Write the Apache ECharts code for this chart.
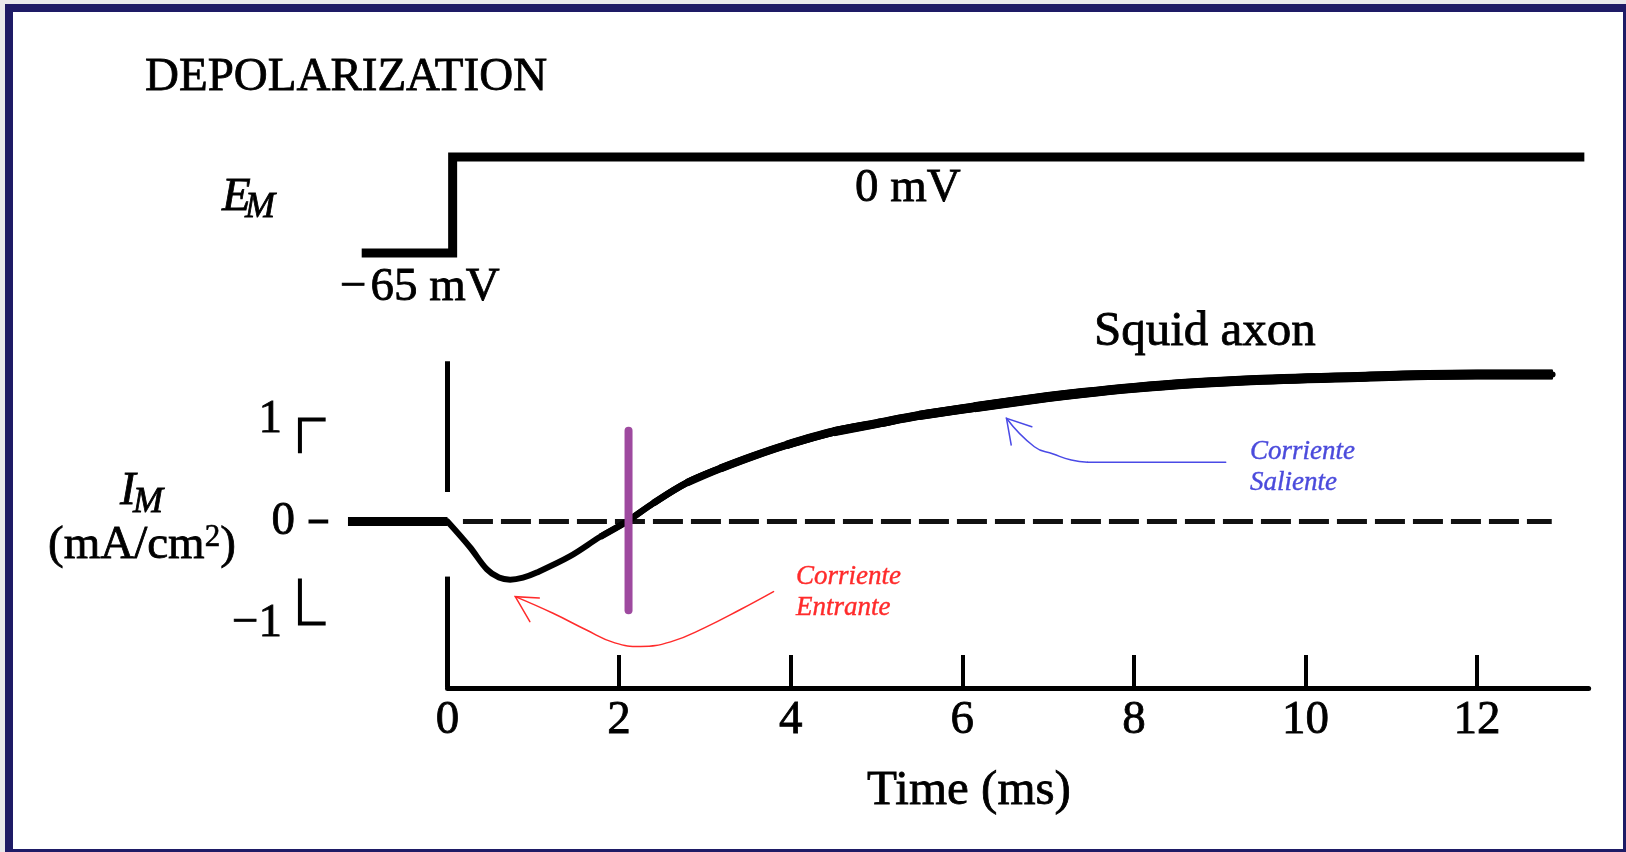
<!DOCTYPE html>
<html>
<head>
<meta charset="utf-8">
<title>Depolarization – squid axon</title>
<script src="https://cdn.jsdelivr.net/npm/echarts@6/dist/echarts.min.js"></script>
<style>
  html, body { margin: 0; padding: 0; background: #e9e9ec; }
  #page { position: relative; width: 1626px; height: 852px; overflow: hidden; background: #e9e9ec; }
  #frame { position: absolute; left: 5px; top: 4px; width: 1610px; height: 837px;
           border: 8px solid #1e1b66; background: #ffffff; }
  #chart { position: absolute; left: 0; top: 0; width: 1626px; height: 852px; }
</style>
</head>
<body>
<div id="page"><div id="frame"></div><div id="chart"></div></div>
<script>
// ---- data ---------------------------------------------------------------
// Voltage-clamp command: membrane potential step (mV) vs time (ms)
const emTime = [-1.0, 0.06, 0.06, 13.25];
const emVolt = [-65, -65, 0, 0];

// Membrane current of the squid axon (mA/cm2) vs time (ms)
const imTime = [-1.16, 0, 0.26, 0.46, 0.6, 0.73, 0.88, 1.04, 1.43, 1.78, 2.09, 2.4, 2.79, 3.18,
                3.56, 3.95, 4.5, 5.0, 5.5, 6.14, 7.0, 7.4, 8.0, 8.6, 9.5, 10.7, 12.0, 12.88];
const imCurr = [0, 0, -0.25, -0.47, -0.55, -0.57, -0.55, -0.50, -0.34, -0.15, 0, 0.18, 0.38, 0.52,
                0.64, 0.75, 0.88, 0.96, 1.04, 1.12, 1.22, 1.26, 1.31, 1.35, 1.39, 1.42, 1.44, 1.44];

// Zero-current reference (dashed), time span in ms
const zeroSpan = [0.18, 12.87];
// Stimulus onset marker at t = 0, drawn in two pieces around the trace (mA/cm2)
const onsetTime = 0;
const onsetPieces = [[1.57, 0.29], [-0.54, -1.63]];
// Reversal of the current (inward -> outward)
const reversalTime = 2.11;
const reversalSpan = [0.89, -0.87];

// Axis ticks
const timeTicks = [0, 2, 4, 6, 8, 10, 12];
const timeAxisEnd = 13.3;
const imTicks = [1, 0, -1];
const imTickLabels = ['1', '0', '−1'];

// Hand-drawn annotation arrows, in (ms, mA/cm2)
const inwardArrowPath = [[3.80, -0.687], [3.42, -0.86], [3.00, -1.04], [2.60, -1.18], [2.25, -1.225],
                         [1.95, -1.19], [1.62, -1.064], [1.23, -0.900], [0.79, -0.737]];
const inwardArrowHead = [[1.07, -0.75], [0.79, -0.737], [0.96, -0.982]];
const outwardArrowLine = [[9.07, 0.58], [7.46, 0.58]];
const outwardArrowPath = [[7.46, 0.58], [7.27, 0.603], [7.06, 0.662], [6.84, 0.733], [6.515, 1.012]];
const outwardArrowHead = [[6.81, 0.929], [6.515, 1.012], [6.57, 0.75]];

// ---- layout -------------------------------------------------------------
const FONT = 'Liberation Serif';
const PX0 = 447.5;      // pixel column of t = 0
const PXMS = 85.8;      // pixels per millisecond
const X_MIN = -2, X_MAX = 13.5;
const plotLeft = PX0 + X_MIN * PXMS;
const plotRight = 1626 - (PX0 + X_MAX * PXMS);
// stroke widths of the current trace, growing along the record: [from ms, width]
const traceWidths = [[0, 6], [1.78, 6.5], [2.4, 7], [2.79, 7.5], [3.18, 8], [3.95, 8.5],
                     [4.5, 9], [5.5, 9.5], [6.14, 10]];

const chart = echarts.init(document.getElementById('chart'), null, { renderer: 'canvas' });

function pairs(xs, ys) { return xs.map((x, i) => [x, ys[i]]); }
function segment(data, style, axis, extra) {
  return Object.assign({
    type: 'line', xAxisIndex: axis, yAxisIndex: axis, data: data,
    symbol: 'none', silent: true, clip: false,
    lineStyle: Object.assign({ color: '#000', width: 4, cap: 'round', join: 'round' }, style)
  }, extra || {});
}

const imData = pairs(imTime, imCurr);
const trace = (from, to) => imData.filter(p => p[0] >= from && p[0] <= to);

// bracket-style scale marks beside the current axis
const bracketX = -1.72, bracketEnd = -1.42, dashStart = -1.62;
const bracketArm = { '1': -0.33, '-1': 0.44 };
const scaleMarks = [];
imTicks.forEach(v => {
  if (v === 0) {
    scaleMarks.push(segment([[dashStart, v], [bracketEnd + 0.03, v]], { width: 4, cap: 'butt' }, 1));
  } else {
    scaleMarks.push(segment([[bracketX, v + bracketArm[String(v)]], [bracketX, v], [bracketEnd, v]],
                            { width: 4, cap: 'butt', join: 'miter' }, 1));
  }
});

const labelFont = { color: '#000', fontFamily: FONT, fontSize: 47, textBorderColor: '#000', textBorderWidth: 0.8 };

const option = {
  animation: false,
  backgroundColor: 'transparent',
  grid: [
    // membrane potential panel: -70..5 mV
    { left: plotLeft, right: plotRight, top: 149.6, height: 110.8 },
    // membrane current panel: -2..2 mA/cm2
    { left: plotLeft, right: plotRight, top: 317.5, height: 408 },
    // time axis
    { left: PX0, right: 1626 - (PX0 + timeAxisEnd * PXMS), top: 600, height: 88 }
  ],
  xAxis: [
    { gridIndex: 0, type: 'value', min: X_MIN, max: X_MAX, show: false },
    { gridIndex: 1, type: 'value', min: X_MIN, max: X_MAX, show: false },
    { gridIndex: 2, type: 'value', min: 0, max: timeAxisEnd,
      axisLine: { lineStyle: { color: '#000', width: 5 } },
      axisTick: { customValues: timeTicks, inside: true, length: 33, lineStyle: { color: '#000', width: 4 } },
      axisLabel: Object.assign({ customValues: timeTicks, margin: 9 }, labelFont),
      splitLine: { show: false } }
  ],
  yAxis: [
    { gridIndex: 0, type: 'value', min: -70, max: 5, show: false },
    { gridIndex: 1, type: 'value', min: -2, max: 2, offset: -27,
      axisLine: { show: false }, axisTick: { show: false }, splitLine: { show: false },
      axisLabel: Object.assign({
        customValues: imTicks, margin: 8,
        formatter: v => {
          const lab = imTickLabels[imTicks.indexOf(v)];
          return v === 0 ? lab : '{p|' + lab + '}';
        },
        rich: { p: Object.assign({ padding: [0, 13, 0, 0] }, labelFont) }
      }, labelFont) },
    { gridIndex: 2, type: 'value', min: 0, max: 1, show: false }
  ],
  series: [
    // potential step
    segment(pairs(emTime, emVolt), { width: 9, cap: 'butt', join: 'miter' }, 0),
    // zero-current dashed reference
    segment([[zeroSpan[0], 0], [zeroSpan[1], 0]], { width: 5, type: [30, 8], cap: 'butt', color: '#111' }, 1),
    // stimulus onset marker
    ...onsetPieces.map(p => segment([[onsetTime, p[0]], [onsetTime, p[1]]], { width: 5, cap: 'butt' }, 1)),
    // current trace: baseline, then a trace that thickens with time
    segment(trace(-5, 0), { width: 9, cap: 'butt' }, 1),
    ...traceWidths.map((w, i) => segment(trace(w[0], 20),
        { width: w[1], cap: i === 0 ? 'round' : 'butt' }, 1, { smooth: 0.35 })),
    // reversal marker
    segment([[reversalTime, reversalSpan[0]], [reversalTime, reversalSpan[1]]],
            { width: 8, color: '#9e4a9f', cap: 'round' }, 1, { z: 5 }),
    // annotation arrows
    segment(inwardArrowPath, { width: 1.5, color: '#ff2b2b' }, 1, { smooth: 0.45, z: 4 }),
    segment(inwardArrowHead, { width: 1.5, color: '#ff2b2b', join: 'miter' }, 1, { z: 4 }),
    segment(outwardArrowLine, { width: 1.5, color: '#4a4ae6' }, 1, { z: 4 }),
    segment(outwardArrowPath, { width: 1.5, color: '#4a4ae6' }, 1, { smooth: 0.5, z: 4 }),
    segment(outwardArrowHead, { width: 1.5, color: '#4a4ae6', join: 'miter' }, 1, { z: 4 }),
    ...scaleMarks
  ],
  graphic: [
    txt('DEPOLARIZATION', 145, 78, 47),
    txt('E', 222, 198, 47, 'italic'),
    txt('M', 245, 208, 36, 'italic'),
    txt('0 mV', 855, 189, 47),
    txt('−\u200a65 mV', 340, 288, 47),
    txt('Squid axon', 1094, 332, 49),
    txt('I', 120, 492, 47, 'italic'),
    txt('M', 133, 503, 36, 'italic'),
    {
      type: 'text', x: 48, y: 546, silent: true, z: 10,
      style: {
        text: '(mA/cm{s|2})', fontFamily: FONT, fontSize: 47, fill: '#000', verticalAlign: 'middle',
        stroke: '#000', lineWidth: 0.8,
        rich: { s: { fontFamily: FONT, fontSize: 31, fill: '#000', stroke: '#000', lineWidth: 0.6, verticalAlign: 'top' } }
      }
    },
    txt('Time (ms)', 969, 791, 49, 'normal', 'center'),
    txt('Corriente\nEntrante', 796, 592, 27, 'italic', 'left', '#ff2b2b', 31, 0.4),
    txt('Corriente\nSaliente', 1250, 467, 27, 'italic', 'left', '#4b4bdc', 31, 0.4)
  ]
};

function txt(text, x, y, size, style, align, color, lineHeight, border) {
  const c = color || '#000';
  return {
    type: 'text', x: x, y: y, silent: true, z: 10,
    style: {
      text: text, fontFamily: FONT, fontSize: size, fontStyle: style || 'normal',
      fill: c, stroke: c, lineWidth: border === undefined ? 0.8 : border,
      align: align || 'left', verticalAlign: 'middle',
      lineHeight: lineHeight || size
    }
  };
}

chart.setOption(option);
</script>
</body>
</html>
